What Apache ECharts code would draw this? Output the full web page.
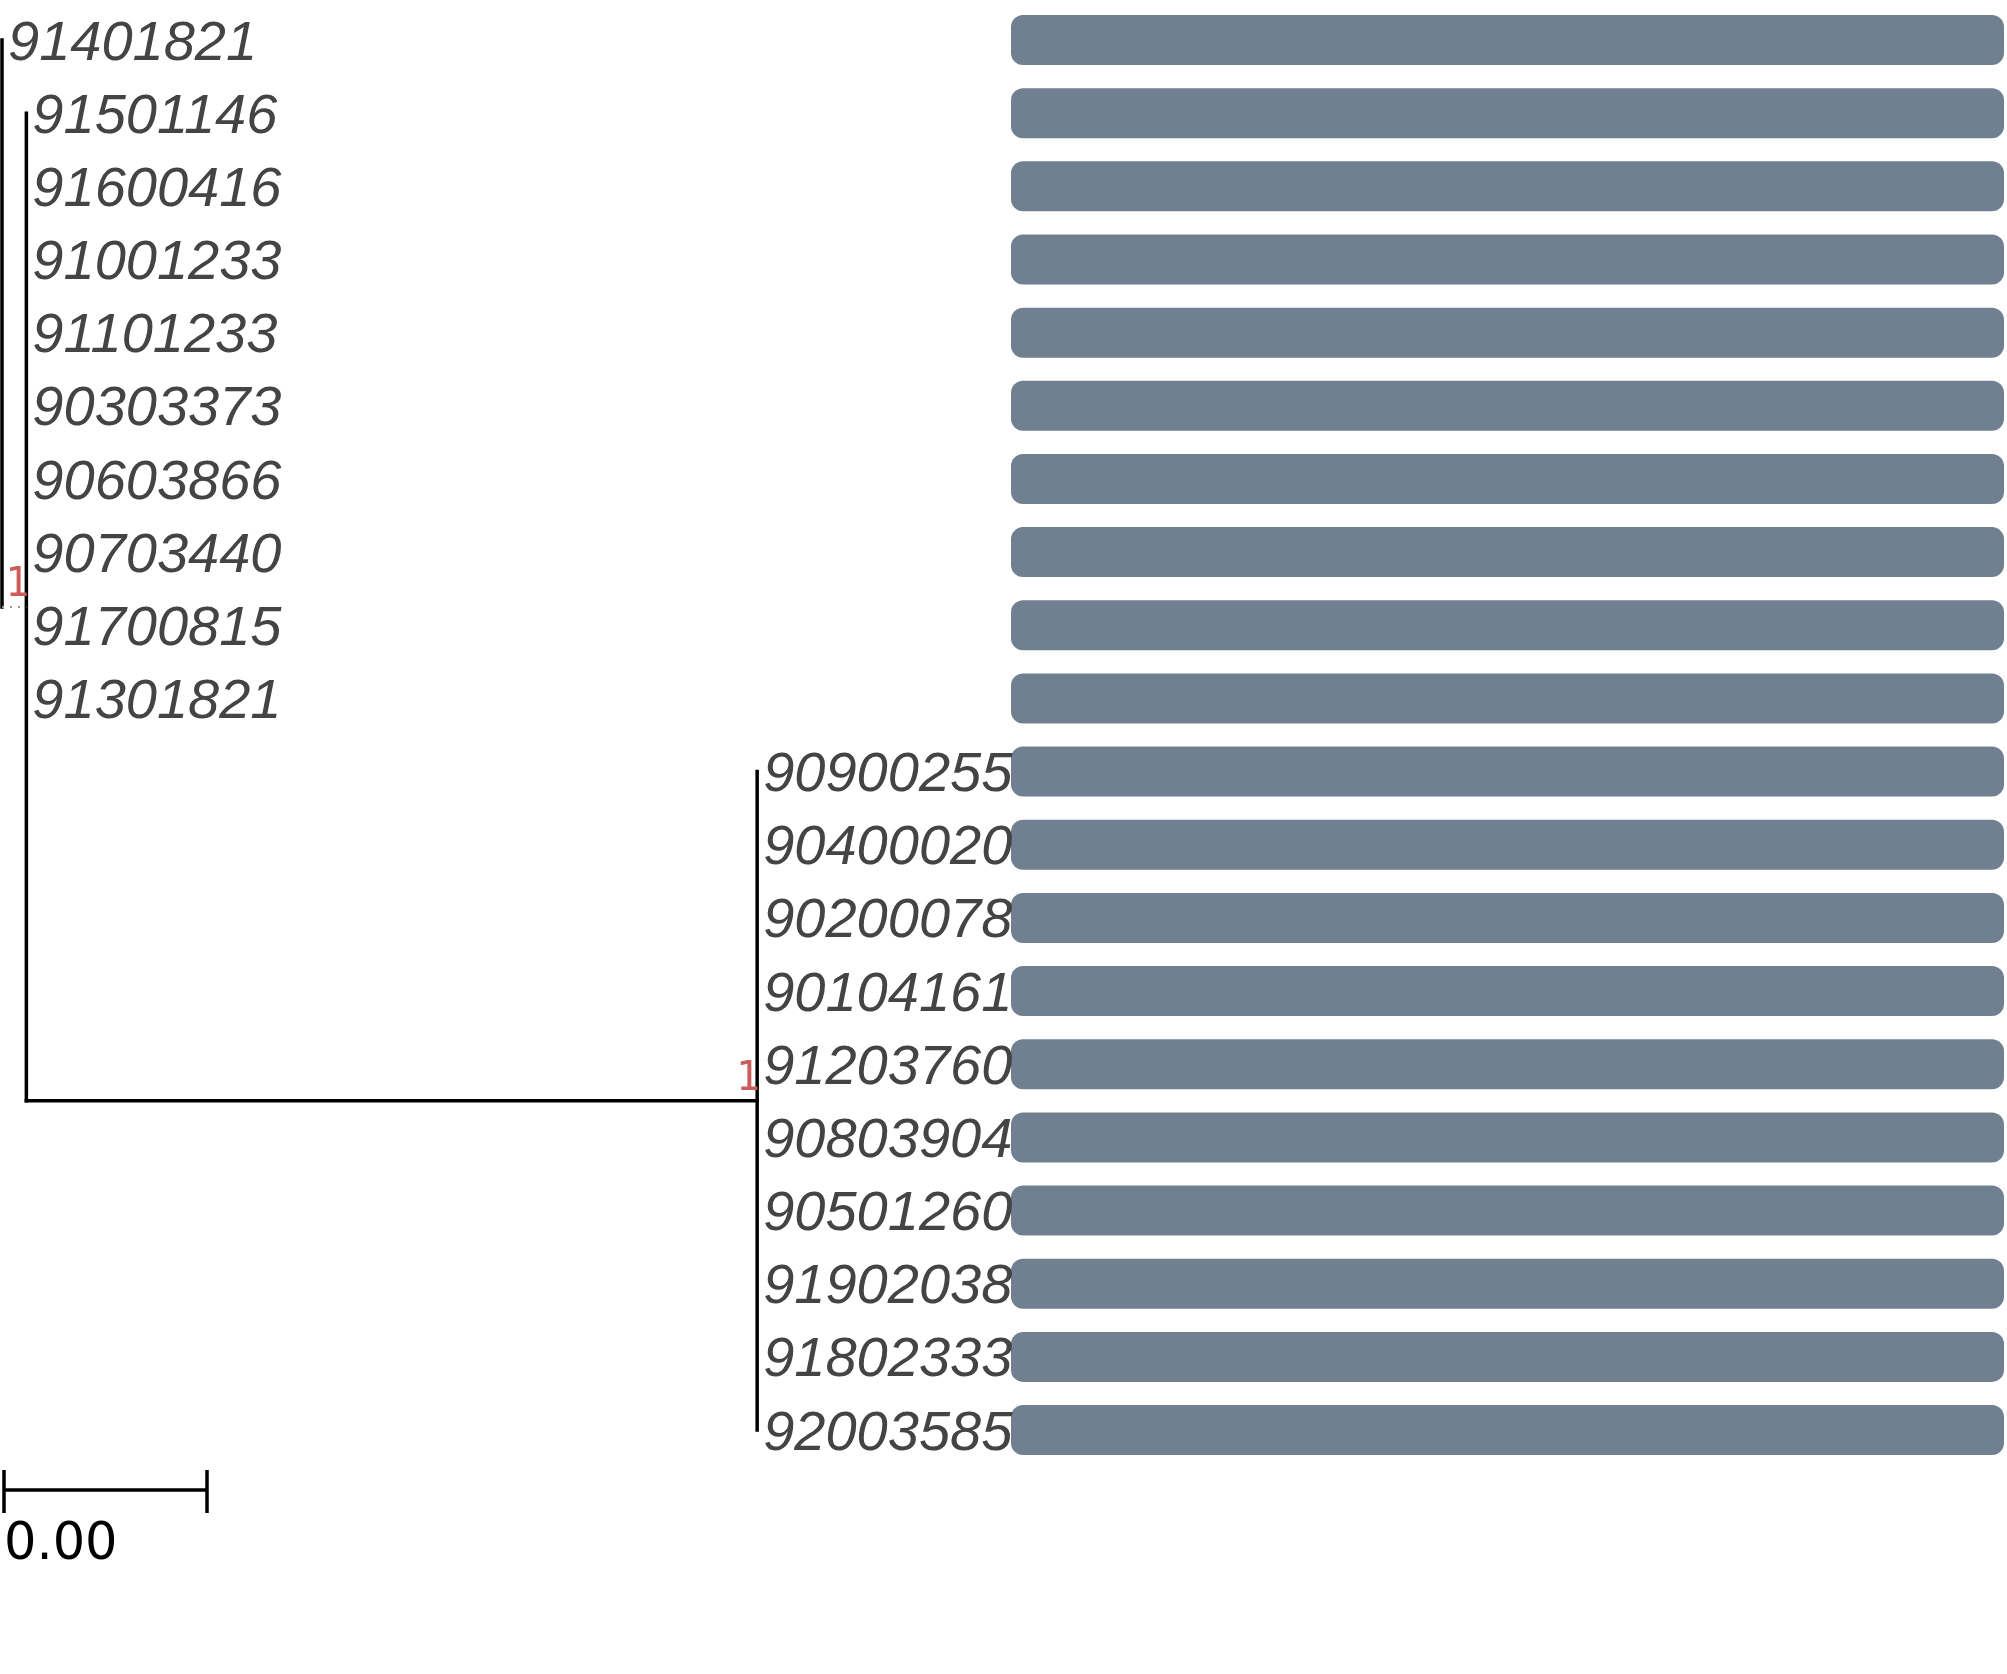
<!DOCTYPE html>
<html>
<head>
<meta charset="utf-8">
<script src="https://cdn.jsdelivr.net/npm/echarts@6/dist/echarts.min.js"></script>
<style>
html,body{margin:0;padding:0;background:#fff;}
#c{width:2007px;height:1674px;}
</style>
</head>
<body>
<div id="c"></div>
<script>
// ---- data ----
const tipNames = ['91401821','91501146','91600416','91001233','91101233','90303373','90603866','90703440','91700815','91301821',
  '90900255','90400020','90200078','90104161','91203760','90803904','90501260','91902038','91802333','92003585'];
// parent internal node of each tip (0 = root, 1 = node A, 2 = node B)
const tipParent = [0,1,1,1,1,1,1,1,1,1,2,2,2,2,2,2,2,2,2,2];
const tipBranch = [0,0,0,0,0,0,0,0,0,0,0,0,0,0,0,0,0,0,0,0];
const nodeParent = [-1,0,1];
const nodeBranch = [0,0.0012,0.036];
const nodeSupport = ['','1','1'];
const barValues = [100,100,100,100,100,100,100,100,100,100,100,100,100,100,100,100,100,100,100,100];
const scaleBarLength = 0.01;
const scaleBarLabel = '0.00';

// ---- tree layout (data units) ----
const nNodes = nodeParent.length;
const nodeX = new Array(nNodes).fill(0);
for (let i = 0; i < nNodes; i++) nodeX[i] = nodeParent[i] < 0 ? nodeBranch[i] : nodeX[nodeParent[i]] + nodeBranch[i];
const tipX = tipNames.map((_, i) => nodeX[tipParent[i]] + tipBranch[i]);
const tipY = tipNames.map((_, i) => i);
const nodeY = new Array(nNodes).fill(null);
function childYs(k){
  const ys = [];
  tipParent.forEach((p,i)=>{ if(p===k) ys.push(tipY[i]); });
  nodeParent.forEach((p,j)=>{ if(p===k) ys.push(getNodeY(j)); });
  return ys;
}
function getNodeY(k){
  if (nodeY[k] !== null) return nodeY[k];
  const ys = childYs(k);
  nodeY[k] = (Math.min(...ys) + Math.max(...ys)) / 2;
  return nodeY[k];
}
for (let k = 0; k < nNodes; k++) getNodeY(k);

const solidLines = [], dottedLines = [];
for (let k = 0; k < nNodes; k++) {
  const ys = childYs(k);
  solidLines.push({coords: [[nodeX[k], Math.min(...ys)], [nodeX[k], Math.max(...ys)]]});
}
tipNames.forEach((_, i) => {
  const p = tipParent[i];
  if (tipX[i] > nodeX[p]) solidLines.push({coords: [[nodeX[p], tipY[i]], [tipX[i], tipY[i]]]});
});
for (let j = 0; j < nNodes; j++) {
  const p = nodeParent[j];
  if (p < 0) continue;
  const seg = {coords: [[nodeX[p], nodeY[j]], [nodeX[j], nodeY[j]]]};
  if (nodeParent[p] < 0) dottedLines.push(seg); else solidLines.push(seg);
}

const gridTop = 3.42, gridH = 1463.2;
const chart = echarts.init(document.getElementById('c'), null, {renderer: 'canvas'});
const hiddenAxis = {show: false, splitLine: {show: false}, axisLine: {show: false}, axisTick: {show: false}, axisLabel: {show: false}};
chart.setOption({
  animation: false,
  backgroundColor: '#ffffff',
  grid: [
    {left: 2, top: gridTop, width: 1015, height: gridH},
    {left: 1011, right: 3, top: gridTop, height: gridH},
    {left: 4, top: 1460, width: 1015, height: 100}
  ],
  xAxis: [
    Object.assign({type: 'value', gridIndex: 0, min: 0, max: 0.05}, hiddenAxis),
    Object.assign({type: 'value', gridIndex: 1, min: 0, max: 100}, hiddenAxis),
    Object.assign({type: 'value', gridIndex: 2, min: 0, max: 0.05}, hiddenAxis)
  ],
  yAxis: [
    Object.assign({type: 'value', gridIndex: 0, min: -0.5, max: tipNames.length - 0.5, inverse: true}, hiddenAxis),
    Object.assign({type: 'category', gridIndex: 1, data: tipNames, inverse: true}, hiddenAxis),
    Object.assign({type: 'value', gridIndex: 2, min: 0, max: 1, inverse: true}, hiddenAxis)
  ],
  series: [
    {
      type: 'lines', coordinateSystem: 'cartesian2d', xAxisIndex: 0, yAxisIndex: 0, polyline: true,
      silent: true, lineStyle: {color: '#000', width: 3.5, opacity: 1, cap: 'square'},
      data: solidLines
    },
    {
      type: 'lines', coordinateSystem: 'cartesian2d', xAxisIndex: 0, yAxisIndex: 0, polyline: true,
      silent: true, lineStyle: {color: '#999', width: 2, type: [2, 6], opacity: 1},
      data: dottedLines
    },
    {
      type: 'scatter', xAxisIndex: 0, yAxisIndex: 0, symbolSize: 0, silent: true,
      itemStyle: {opacity: 1},
      data: tipNames.map((n, i) => ({name: n, value: [tipX[i], tipY[i]]})),
      label: {
        show: true, position: 'right', distance: 6, formatter: p => p.name,
        fontFamily: 'Liberation Sans', fontStyle: 'italic', fontSize: 56, color: '#444444', offset: [0, 4],
        opacity: 1
      }
    },
    {
      type: 'scatter', xAxisIndex: 0, yAxisIndex: 0, symbolSize: 0, silent: true,
      itemStyle: {opacity: 1},
      data: nodeSupport.map((s, k) => ({name: s, value: [nodeX[k], nodeY[k]]})).filter(d => d.name !== ''),
      label: {
        show: true, position: 'left', distance: 0, align: 'right', verticalAlign: 'bottom',
        formatter: p => p.name, fontFamily: 'DejaVu Sans Mono', fontSize: 40, color: '#cd5c5c', offset: [3, -1],
        opacity: 1
      }
    },
    {
      type: 'bar', xAxisIndex: 1, yAxisIndex: 1, barWidth: 50, silent: true,
      itemStyle: {color: '#708090', borderRadius: 12},
      data: barValues
    },
    {
      type: 'lines', coordinateSystem: 'cartesian2d', xAxisIndex: 2, yAxisIndex: 2, polyline: true,
      silent: true, lineStyle: {color: '#000', width: 3.5, opacity: 1},
      data: [
        {coords: [[0, 0.3], [scaleBarLength, 0.3]]},
        {coords: [[0, 0.1], [0, 0.53]]},
        {coords: [[scaleBarLength, 0.1], [scaleBarLength, 0.53]]}
      ]
    },
    {
      type: 'scatter', xAxisIndex: 2, yAxisIndex: 2, symbolSize: 0, silent: true,
      itemStyle: {opacity: 1},
      data: [{name: scaleBarLabel, value: [0, 0.86]}],
      label: {show: true, position: 'right', distance: 0, formatter: p => p.name,
        fontFamily: 'DejaVu Sans', fontSize: 51, color: '#000', opacity: 1}
    }
  ]
});
</script>
</body>
</html>
